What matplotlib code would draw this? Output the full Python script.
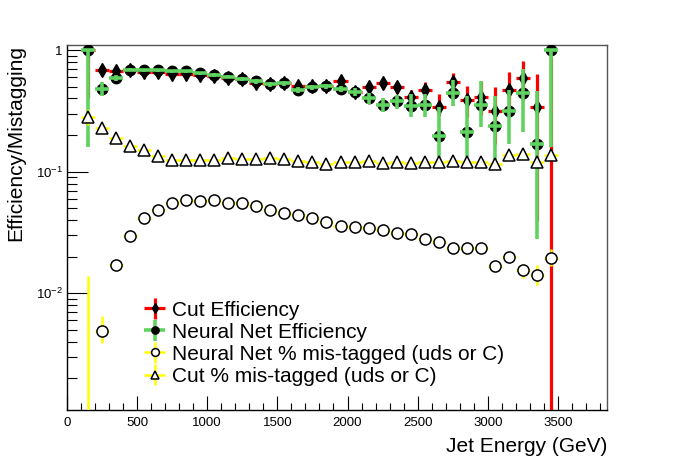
import numpy as np
import matplotlib
matplotlib.use("Agg")
from matplotlib import pyplot as plt
from matplotlib.ticker import FixedLocator, FuncFormatter, MultipleLocator

plt.rcParams['font.family'] = ['Liberation Sans', 'DejaVu Sans']
plt.rcParams['mathtext.fontset'] = 'custom'
plt.rcParams['mathtext.rm'] = 'Liberation Sans'

# bin centres, 100 GeV wide bins
energy = np.arange(150, 3500, 100)

nn_eff = [1.0, 0.48, 0.59, 0.69, 0.68, 0.68, 0.668, 0.668, 0.644, 0.624, 0.604, 0.58,
          0.554, 0.526, 0.533, 0.47, 0.494, 0.504, 0.479, 0.455, 0.402, 0.356, 0.38,
          0.35, 0.354, 0.195, 0.444, 0.211, 0.356, 0.237, 0.314, 0.444, 0.17, 1.0]
nn_eff_dn = [0.84, 0.06, 0.03, 0.02, 0.02, 0.02, 0.02, 0.02, 0.02, 0.02, 0.02, 0.02,
             0.025, 0.025, 0.025, 0.025, 0.025, 0.025, 0.03, 0.035, 0.04, 0.045, 0.05,
             0.07, 0.07, 0.063, 0.094, 0.079, 0.124, 0.123, 0.144, 0.233, 0.142, 0.84]
nn_eff_up = [0.0, 0.07, 0.03, 0.02, 0.02, 0.02, 0.02, 0.02, 0.02, 0.02, 0.02, 0.02,
             0.025, 0.025, 0.025, 0.025, 0.025, 0.025, 0.03, 0.035, 0.04, 0.045, 0.05,
             0.086, 0.08, 0.144, 0.127, 0.211, 0.198, 0.185, 0.156, 0.255, 0.294, 0.0]

cut_eff = [1.0, 0.69, 0.677, 0.68, 0.656, 0.657, 0.636, 0.63, 0.62, 0.61, 0.59, 0.578,
           0.533, 0.526, 0.533, 0.51, 0.504, 0.51, 0.56, 0.455, 0.494, 0.533, 0.494,
           0.41, 0.473, 0.339, 0.55, 0.389, 0.41, 0.314, 0.473, 0.586, 0.339, 0.0]
cut_eff_dn = [0.6, 0.03, 0.02, 0.02, 0.02, 0.02, 0.02, 0.02, 0.02, 0.02, 0.02, 0.02,
              0.025, 0.025, 0.025, 0.025, 0.025, 0.025, 0.03, 0.035, 0.04, 0.05, 0.05,
              0.06, 0.07, 0.05, 0.1, 0.108, 0.12, 0.144, 0.17, 0.2, 0.3, 0.0]
cut_eff_up = [0.0, 0.03, 0.02, 0.02, 0.02, 0.02, 0.02, 0.02, 0.02, 0.02, 0.02, 0.02,
              0.025, 0.025, 0.025, 0.025, 0.025, 0.025, 0.03, 0.035, 0.04, 0.05, 0.05,
              0.063, 0.077, 0.097, 0.1, 0.115, 0.144, 0.186, 0.183, 0.23, 0.297, 0.87]

nn_mis = [0.0, 0.0049, 0.0171, 0.0295, 0.0417, 0.0482, 0.0557, 0.0582, 0.0572, 0.0582,
          0.0557, 0.055, 0.0524, 0.0489, 0.0459, 0.0438, 0.0417, 0.0387, 0.0356, 0.0348,
          0.0345, 0.033, 0.0316, 0.031, 0.0279, 0.0265, 0.0237, 0.0238, 0.0234, 0.0169,
          0.02, 0.0155, 0.0141, 0.0197]
nn_mis_dn = [0.0, 0.001, 0.0008, 0.001, 0.0012, 0.0012, 0.0013, 0.0013, 0.0013, 0.0013,
             0.0013, 0.0013, 0.0013, 0.0012, 0.0012, 0.0012, 0.0012, 0.0012, 0.0012, 0.0012,
             0.0012, 0.0012, 0.0012, 0.0013, 0.0013, 0.0013, 0.0013, 0.0014, 0.0014, 0.0015,
             0.0017, 0.002, 0.0024, 0.0028]
nn_mis_up = [0.014, 0.0016, 0.0008, 0.001, 0.0012, 0.0012, 0.0013, 0.0013, 0.0013, 0.0013,
             0.0013, 0.0013, 0.0013, 0.0012, 0.0012, 0.0012, 0.0012, 0.0012, 0.0012, 0.0012,
             0.0012, 0.0012, 0.0012, 0.0013, 0.0013, 0.0013, 0.0013, 0.0014, 0.0014, 0.0015,
             0.0017, 0.002, 0.0029, 0.0033]

cut_mis = [0.281, 0.23, 0.189, 0.164, 0.15, 0.134, 0.124, 0.124, 0.125, 0.125, 0.13, 0.128,
           0.128, 0.129, 0.128, 0.122, 0.121, 0.116, 0.121, 0.12, 0.122, 0.118, 0.121,
           0.118, 0.12, 0.12, 0.122, 0.12, 0.12, 0.116, 0.136, 0.14, 0.12, 0.138]
cut_mis_dn = [0.041, 0.006, 0.005, 0.004, 0.004, 0.003, 0.003, 0.003, 0.003, 0.003, 0.003,
              0.003, 0.003, 0.003, 0.003, 0.003, 0.003, 0.003, 0.003, 0.003, 0.003, 0.003,
              0.003, 0.003, 0.003, 0.003, 0.004, 0.004, 0.004, 0.004, 0.005, 0.005, 0.007, 0.006]
cut_mis_up = [0.048, 0.006, 0.005, 0.004, 0.004, 0.003, 0.003, 0.003, 0.003, 0.003, 0.003,
              0.003, 0.003, 0.003, 0.003, 0.003, 0.003, 0.003, 0.003, 0.003, 0.003, 0.003,
              0.003, 0.003, 0.003, 0.003, 0.004, 0.004, 0.004, 0.004, 0.005, 0.005, 0.007, 0.006]

YMIN, YMAX = 0.0011, 1.1
FLOOR = 1e-5  # empty bins sit below the axis, only the upper error shows


def prep(vals, dn, up):
    v = np.array(vals, dtype=float)
    y = np.where(v > 0, v, FLOOR)
    lo = np.where(v > 0, np.array(dn), 0.0)
    hi = v + np.array(up) - y
    return y, [lo, hi]


fig = plt.figure(figsize=(6.74, 4.57), dpi=100)
ax = fig.add_axes([0.0994, 0.1028, 0.8012, 0.7987])
ax.set_yscale('log')

xerr = 50
y, e = prep(cut_eff, cut_eff_dn, cut_eff_up)
h_cut = ax.errorbar(energy, y, yerr=e, xerr=xerr, fmt='d', color='black', ms=7,
                    ecolor='#ff0000', elinewidth=2.3, capsize=0, zorder=3)
y, e = prep(nn_eff, nn_eff_dn, nn_eff_up)
h_nn_mk, = ax.plot(energy, y, 'o', color='black', ms=7.5, zorder=4)
h_nn = ax.errorbar(energy, y, yerr=e, xerr=xerr, fmt='none', ecolor='#5fd35f',
                   elinewidth=2.6, capsize=0, zorder=5)
y, e = prep(nn_mis, nn_mis_dn, nn_mis_up)
h_nnm = ax.errorbar(energy, y, yerr=e, xerr=xerr, fmt='o', mfc='white', mec='black',
                    mew=1.1, ms=8, ecolor='#ffff00', elinewidth=1.8, capsize=0, zorder=6)
y, e = prep(cut_mis, cut_mis_dn, cut_mis_up)
h_cutm = ax.errorbar(energy, y, yerr=e, xerr=xerr, fmt='^', mfc='white', mec='black',
                     mew=1.1, ms=8, ecolor='#ffff00', elinewidth=1.8, capsize=0, zorder=6)

ax.set_xlim(0, 3850)
ax.set_ylim(YMIN, YMAX)

ax.xaxis.set_major_locator(MultipleLocator(500))
ax.xaxis.set_minor_locator(MultipleLocator(100))
ax.yaxis.set_major_locator(FixedLocator([0.01, 0.1, 1]))
ax.yaxis.set_minor_locator(FixedLocator([m * 10.0 ** d for d in (-3, -2, -1, 0)
                                         for m in range(2, 10)]))
ax.yaxis.set_major_formatter(FuncFormatter(
    lambda v, p: '1' if abs(v - 1) < 1e-9 else r'$10^{%d}$' % round(np.log10(v))))

ax.tick_params(which='both', direction='in', top=False, right=False, labelsize=9.5)
ax.tick_params(axis='x', which='major', length=10, width=0.8, pad=5)
ax.tick_params(axis='x', which='minor', length=5, width=0.8)
ax.tick_params(axis='y', which='major', length=15, width=0.8, pad=3)
ax.tick_params(axis='y', which='minor', length=7, width=0.8)
for s in ax.spines.values():
    s.set_linewidth(1.0)
ax.spines['top'].set_color('#555555')
ax.spines['right'].set_color('#555555')

ax.set_xlabel('Jet Energy (GeV)', fontsize=15, loc='right', labelpad=6)
ax.set_ylabel('Efficiency/Mistagging', fontsize=15, loc='top')
ax.yaxis.set_label_coords(-0.078, 1.0)

leg = ax.legend([h_cut, (h_nn, h_nn_mk), h_nnm, h_cutm],
                ['Cut Efficiency', 'Neural Net Efficiency',
                 'Neural Net % mis-tagged (uds or C)', 'Cut % mis-tagged (uds or C)'],
                loc='upper left', bbox_to_anchor=(0.141, 0.30), frameon=False,
                fontsize=15, handlelength=1.1, handletextpad=0.3, labelspacing=0.15,
                borderpad=0, borderaxespad=0, markerscale=0.7)

fig.savefig('out.png', dpi=100)
